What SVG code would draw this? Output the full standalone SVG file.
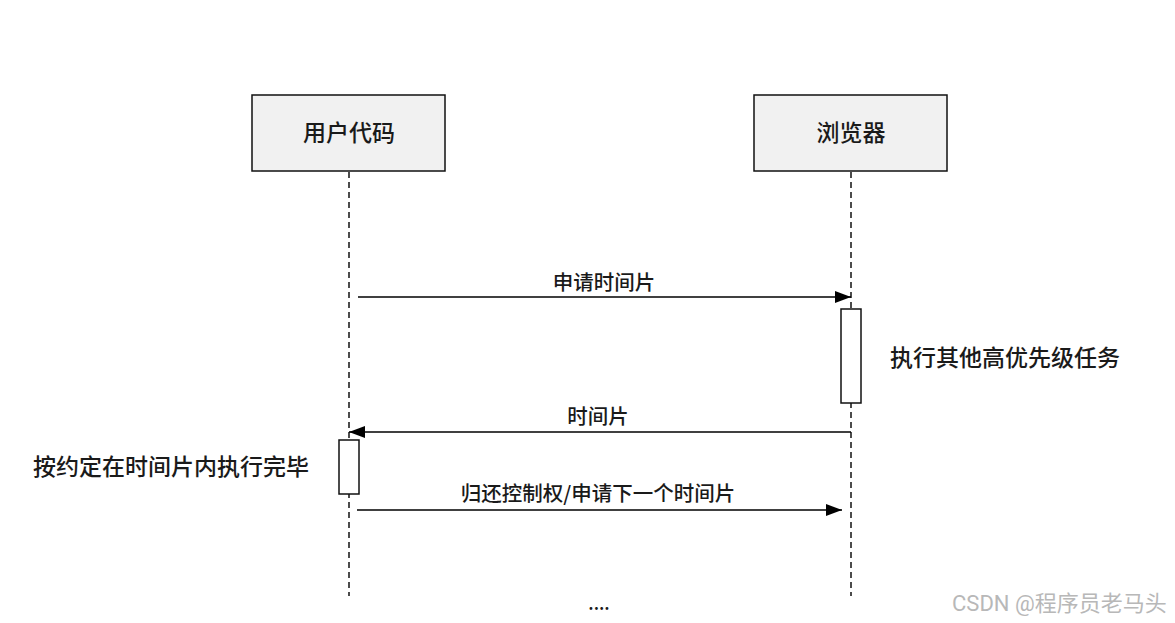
<svg xmlns="http://www.w3.org/2000/svg" width="1175" height="623" viewBox="0 0 1175 623">
<defs>
<style>
.t{font-family:"Noto Sans CJK SC","Liberation Sans",sans-serif;fill:#1a1a1a;font-weight:500}
.box{fill:#f1f1f1;stroke:#111;stroke-width:1.5}
.life{stroke:#111;stroke-width:1.5;stroke-dasharray:6 4;fill:none}
.msg{stroke:#000;stroke-width:1.7;fill:none}
.act{fill:#fff;stroke:#111;stroke-width:1.5}
</style>
<marker id="ah" viewBox="0 0 16 12" refX="16" refY="6" markerWidth="16" markerHeight="12" markerUnits="userSpaceOnUse" orient="auto">
<path d="M0,0 L16,6 L0,12 Z" fill="#000"/>
</marker>
</defs>
<rect width="1175" height="623" fill="#fff"/>
<g id="connectors">
<line class="life" x1="349" y1="172" x2="349" y2="596"/>
<line class="life" x1="851" y1="172" x2="851" y2="596"/>
<line class="msg" x1="358" y1="297" x2="851" y2="297" marker-end="url(#ah)"/>
<text class="t" x="604" y="290" font-size="20.5" text-anchor="middle">申请时间片</text>
<line class="msg" x1="851" y1="432" x2="349" y2="432" marker-end="url(#ah)"/>
<text class="t" x="598" y="424" font-size="20.5" text-anchor="middle">时间片</text>
<line class="msg" x1="357" y1="510" x2="842" y2="510" marker-end="url(#ah)"/>
<text class="t" x="598" y="501" font-size="20.5" text-anchor="middle">归还控制权/申请下一个时间片</text>
</g>
<g id="user">
<rect class="box" x="252" y="95" width="193" height="76"/>
<text class="t" x="349" y="141" font-size="23" text-anchor="middle">用户代码</text>
</g>
<g id="browser">
<rect class="box" x="754" y="95" width="193" height="76"/>
<text class="t" x="851" y="141" font-size="23" text-anchor="middle">浏览器</text>
</g>
<g id="browser-activation">
<rect class="act" x="841" y="309" width="20" height="94"/>
<text class="t" x="890" y="366" font-size="23">执行其他高优先级任务</text>
</g>
<g id="user-activation">
<rect class="act" x="339" y="440" width="20" height="54"/>
<text class="t" x="33" y="475" font-size="23">按约定在时间片内执行完毕</text>
</g>
<text class="t" x="599" y="610" font-size="18" text-anchor="middle">....</text>
<text x="952" y="611" font-size="22" font-family="Roboto,'Noto Sans CJK SC',sans-serif" fill="#b8b8b8">CSDN @程序员老马头</text>
</svg>
